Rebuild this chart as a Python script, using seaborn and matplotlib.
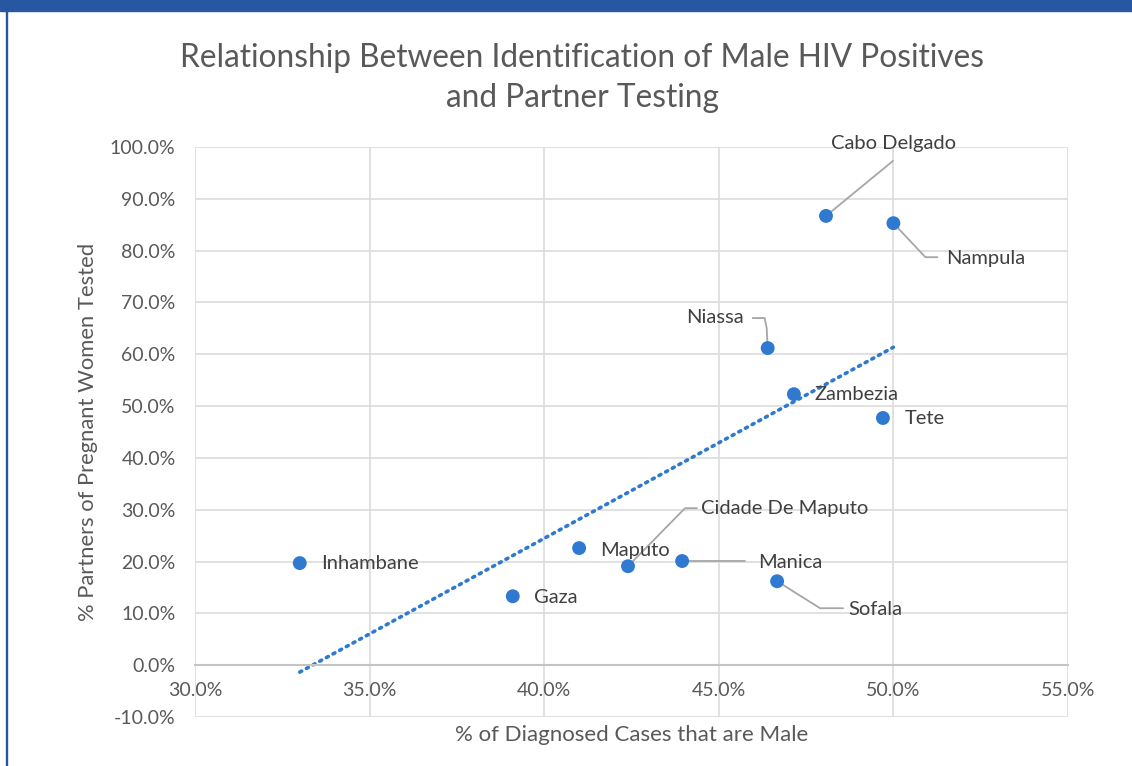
import numpy as np
import pandas as pd
import matplotlib
matplotlib.use('Agg')
import matplotlib.pyplot as plt
import matplotlib.patches as mpatches
from matplotlib.transforms import IdentityTransform
from matplotlib.ticker import FuncFormatter, MultipleLocator
import seaborn as sns

## Data (percent)
provinces = ['Inhambane', 'Gaza', 'Maputo', 'Cidade De Maputo', 'Manica',
             'Sofala', 'Niassa', 'Zambezia', 'Tete', 'Cabo Delgado', 'Nampula']
pct_male = [33.0, 39.1, 41.0, 42.4, 43.95, 46.67, 46.4, 47.15, 49.7, 48.07, 50.0]
pct_partners = [19.7, 13.3, 22.6, 19.1, 20.1, 16.2, 61.2, 52.3, 47.7, 86.7, 85.3]

df = pd.DataFrame({'province': provinces, 'male': pct_male, 'partners': pct_partners})

## Label placement: text offset (px, image down = +), ha, leader polyline offsets
label_pos = {
    'Inhambane': ((21, 0), 'left', None),
    'Gaza': ((21, 1), 'left', None),
    'Maputo': ((21, 2), 'left', None),
    'Cidade De Maputo': ((73, -58), 'left', [(0, 0), (57, -58), (69, -58)]),
    'Manica': ((76, 1), 'left', [(0, 0), (63, 0)]),
    'Sofala': ((71, 28), 'left', [(0, 0), (43, 27), (66, 27)]),
    'Niassa': ((-24, -31), 'right', [(0, 0), (-1, -20), (-3, -30), (-15, -30)]),
    'Zambezia': ((21, 0), 'left', None),
    'Tete': ((22, 0), 'left', None),
    'Cabo Delgado': ((67, -72), 'center', [(0, 0), (67, -55)]),
    'Nampula': ((53, 35), 'left', [(0, 0), (32, 34), (44, 34)]),
}

sns.set_style('white')
plt.rcParams['font.family'] = ['Lato', 'DejaVu Sans']

BLUE = '#2f7ad0'
TXT = '#595959'
GRID = '#dcdcdc'

W, H = 1132, 766
fig = plt.figure(figsize=(W / 100, H / 100), dpi=100)
ax = fig.add_axes([195 / W, 1 - 717 / H, (1068 - 195) / W, (717 - 147) / H])

## Trend line + points
sns.regplot(data=df, x='male', y='partners', scatter=False, ci=None, truncate=True,
            color=BLUE, line_kws={'ls': (0, (0.6, 1.5)), 'lw': 2.6, 'dash_capstyle': 'round'},
            ax=ax)
sns.scatterplot(data=df, x='male', y='partners', color=BLUE, s=100, edgecolor='none',
                zorder=5, ax=ax)

ax.set_xlim(30, 55)
ax.set_ylim(-10, 100)
ax.xaxis.set_major_locator(MultipleLocator(5))
ax.yaxis.set_major_locator(MultipleLocator(10))
fmt = FuncFormatter(lambda v, p: '{:.1f}%'.format(v))
ax.xaxis.set_major_formatter(fmt)
ax.yaxis.set_major_formatter(fmt)
ax.grid(True, color=GRID, lw=1.2)
ax.set_axisbelow(True)
for s in ['top', 'right', 'left']:
    ax.spines[s].set_visible(False)
ax.spines['bottom'].set_position(('data', 0))
ax.spines['bottom'].set_color('#c4c4c4')
ax.spines['bottom'].set_linewidth(1.5)
ax.tick_params(axis='x', length=0, pad=12, labelsize=14, labelcolor=TXT)
ax.tick_params(axis='y', length=0, pad=14, labelsize=14, labelcolor=TXT)
ax.set_xlabel('')
ax.set_ylabel('')

fig.text(88 / W, 1 - 432 / H, '% Partners of Pregnant Women Tested', rotation=90,
         ha='center', va='center', fontsize=15.8, color=TXT)
fig.text(632 / W, 1 - 735 / H, '% of Diagnosed Cases that are Male',
         ha='center', va='center', fontsize=16, color=TXT)
fig.text(582 / W, 1 - 78 / H,
         'Relationship Between Identification of Male HIV Positives\nand Partner Testing',
         ha='center', va='center', fontsize=22.8, color=TXT, linespacing=1.42)

## Data labels and leader lines
for name, xv, yv in zip(provinces, pct_male, pct_partners):
    (dx, dy), ha, leader = label_pos[name]
    ax.annotate(name, (xv, yv), xytext=(dx, -dy), textcoords='offset pixels',
                ha=ha, va='center', fontsize=14.5, color='#404040', zorder=6)
    if leader:
        px, py = ax.transData.transform((xv, yv))
        lx = [px + ox for ox, oy in leader]
        ly = [py - oy for ox, oy in leader]
        ax.add_line(plt.Line2D(lx, ly, transform=IdentityTransform(), color='#a6a6a6',
                               lw=1.3, zorder=4, clip_on=False))

## Frame bits from the slide
fig.patches.append(mpatches.Rectangle((0, 1 - 11 / H), 1, 11 / H, transform=fig.transFigure,
                                      color='#2757a0', zorder=0))
fig.patches.append(mpatches.Rectangle((5.5 / W, 0), 1.8 / W, 1, transform=fig.transFigure,
                                      color='#2757a0', zorder=0))

fig.savefig('out.png', dpi=100)
